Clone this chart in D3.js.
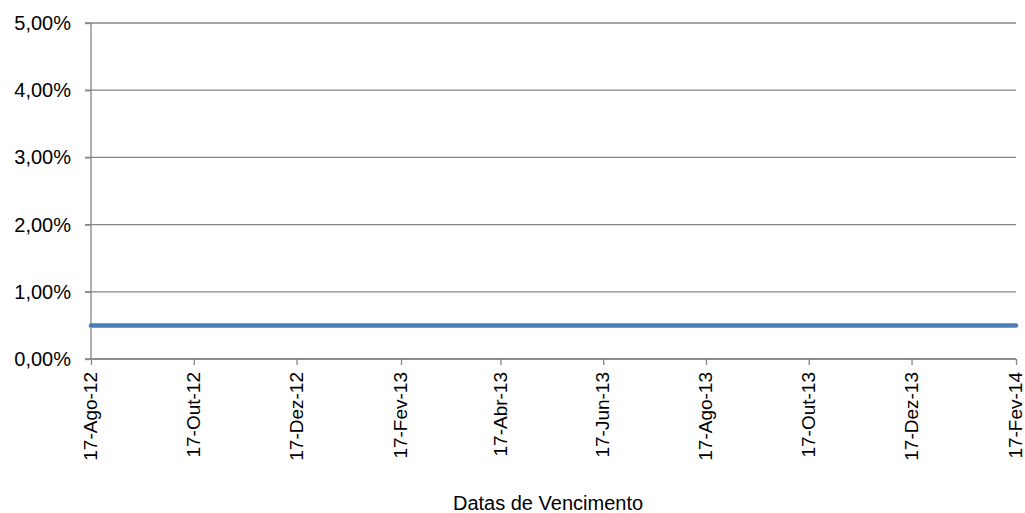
<!DOCTYPE html>
<html>
<head>
<meta charset="utf-8">
<script src="https://cdn.jsdelivr.net/npm/d3@7"></script>
<style>
  body { margin: 0; background: #fff; }
  text { font-family: "Liberation Sans", Arial, sans-serif; fill: #000; }
</style>
</head>
<body>
<svg id="chart" width="1025" height="513"></svg>
<script>
// Series data: maturity dates and rate
var dates = ["2012-08-17", "2012-10-17", "2012-12-17", "2013-02-17", "2013-04-17",
             "2013-06-17", "2013-08-17", "2013-10-17", "2013-12-17", "2014-02-17"];
var rates = [0.005, 0.005, 0.005, 0.005, 0.005, 0.005, 0.005, 0.005, 0.005, 0.005];

// Tick labels
var yTicks = [0, 0.01, 0.02, 0.03, 0.04, 0.05];
var xTickLabels = ["17-Ago-12", "17-Out-12", "17-Dez-12", "17-Fev-13", "17-Abr-13",
                   "17-Jun-13", "17-Ago-13", "17-Out-13", "17-Dez-13", "17-Fev-14"];

var parse = d3.timeParse("%Y-%m-%d");
var points = dates.map(function(d, i) { return { date: parse(d), rate: rates[i] }; });

// Plot area
var plotLeft = 91, plotRight = 1016, plotTop = 23, plotBottom = 359;
var gray = "#868686";

var svg = d3.select("#chart");

var xScale = d3.scaleTime()
    .domain([parse(dates[0]), parse(dates[dates.length - 1])])
    .range([plotLeft, plotRight]);

var yScale = d3.scaleLinear()
    .domain([0, 0.05])
    .range([plotBottom, plotTop]);

// Horizontal gridlines
svg.append("g")
    .selectAll("line")
    .data(yTicks)
    .enter().append("line")
    .attr("x1", plotLeft - 6)
    .attr("x2", plotRight)
    .attr("y1", function(d) { return yScale(d); })
    .attr("y2", function(d) { return yScale(d); })
    .attr("stroke", gray)
    .attr("stroke-width", 1.3);

// Y axis
var yAxis = d3.axisLeft(yScale)
    .tickValues(yTicks)
    .tickSize(6)
    .tickPadding(14)
    .tickFormat(function(d) { return (d * 100).toFixed(2).replace(".", ",") + "%"; });

var yG = svg.append("g")
    .attr("transform", "translate(" + plotLeft + ",0)")
    .call(yAxis);
yG.select(".domain").attr("stroke", gray).attr("stroke-width", 1.3)
    .attr("d", "M0," + plotTop + "V" + plotBottom);
yG.selectAll(".tick line").attr("stroke", gray).attr("stroke-width", 1.3);
yG.selectAll("text").style("font-size", "20px").style("font-family", "Liberation Sans, Arial, sans-serif");

// X axis
var xAxis = d3.axisBottom(xScale)
    .tickValues(dates.map(parse))
    .tickSize(6)
    .tickFormat(function(d, i) { return xTickLabels[i]; });

var xG = svg.append("g")
    .attr("transform", "translate(0," + plotBottom + ")")
    .call(xAxis);
xG.select(".domain").attr("stroke", gray).attr("stroke-width", 1.3)
    .attr("d", "M" + plotLeft + ",0H" + plotRight);
xG.selectAll(".tick line").attr("stroke", gray).attr("stroke-width", 1.3);
xG.selectAll("text")
    .style("font-size", "19px")
    .style("font-family", "Liberation Sans, Arial, sans-serif")
    .attr("text-anchor", "end")
    .attr("dy", "0.3em")
    .attr("x", -13)
    .attr("y", 0)
    .attr("transform", "rotate(-90)");

// Line
var line = d3.line()
    .x(function(d) { return xScale(d.date); })
    .y(function(d) { return yScale(d.rate); });

svg.append("path")
    .datum(points)
    .attr("d", line)
    .attr("fill", "none")
    .attr("stroke", "#4a7ebb")
    .attr("stroke-width", 4.5)
    .attr("stroke-linecap", "round");

// Axis title
svg.append("text")
    .attr("x", 548)
    .attr("y", 510)
    .attr("text-anchor", "middle")
    .style("font-size", "20px")
    .text("Datas de Vencimento");
</script>
</body>
</html>
